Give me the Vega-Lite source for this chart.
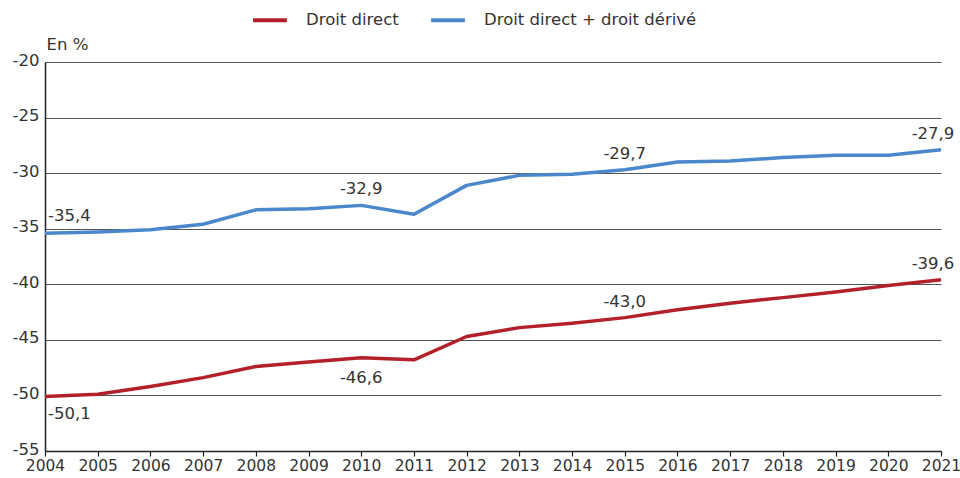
{
  "$schema": "https://vega.github.io/schema/vega-lite/v6.json",
  "width": 896,
  "height": 389,
  "autosize": {"type": "none"},
  "padding": {"left": 45, "top": 62, "right": 19, "bottom": 27},
  "background": "white",
  "config": {
    "locale": {"number": {"decimal": ",", "thousands": " ", "grouping": [3], "currency": ["", " €"], "minus": "-"}},
    "font": "DejaVu Sans",
    "view": {"stroke": null},
    "axis": {"labelFont": "DejaVu Sans", "labelFontSize": 16.5, "labelColor": "#333333", "titleFont": "DejaVu Sans"}
  },
  "data": {
    "values": [
      {"year": 2004, "serie": "Droit direct", "value": -50.1},
      {"year": 2005, "serie": "Droit direct", "value": -49.9},
      {"year": 2006, "serie": "Droit direct", "value": -49.2},
      {"year": 2007, "serie": "Droit direct", "value": -48.4},
      {"year": 2008, "serie": "Droit direct", "value": -47.4},
      {"year": 2009, "serie": "Droit direct", "value": -47.0},
      {"year": 2010, "serie": "Droit direct", "value": -46.6},
      {"year": 2011, "serie": "Droit direct", "value": -46.8},
      {"year": 2012, "serie": "Droit direct", "value": -44.7},
      {"year": 2013, "serie": "Droit direct", "value": -43.9},
      {"year": 2014, "serie": "Droit direct", "value": -43.5},
      {"year": 2015, "serie": "Droit direct", "value": -43.0},
      {"year": 2016, "serie": "Droit direct", "value": -42.3},
      {"year": 2017, "serie": "Droit direct", "value": -41.7},
      {"year": 2018, "serie": "Droit direct", "value": -41.2},
      {"year": 2019, "serie": "Droit direct", "value": -40.7},
      {"year": 2020, "serie": "Droit direct", "value": -40.1},
      {"year": 2021, "serie": "Droit direct", "value": -39.6},
      {"year": 2004, "serie": "Droit direct + droit dérivé", "value": -35.4},
      {"year": 2005, "serie": "Droit direct + droit dérivé", "value": -35.3},
      {"year": 2006, "serie": "Droit direct + droit dérivé", "value": -35.1},
      {"year": 2007, "serie": "Droit direct + droit dérivé", "value": -34.6},
      {"year": 2008, "serie": "Droit direct + droit dérivé", "value": -33.3},
      {"year": 2009, "serie": "Droit direct + droit dérivé", "value": -33.2},
      {"year": 2010, "serie": "Droit direct + droit dérivé", "value": -32.9},
      {"year": 2011, "serie": "Droit direct + droit dérivé", "value": -33.7},
      {"year": 2012, "serie": "Droit direct + droit dérivé", "value": -31.1},
      {"year": 2013, "serie": "Droit direct + droit dérivé", "value": -30.2},
      {"year": 2014, "serie": "Droit direct + droit dérivé", "value": -30.1},
      {"year": 2015, "serie": "Droit direct + droit dérivé", "value": -29.7},
      {"year": 2016, "serie": "Droit direct + droit dérivé", "value": -29.0},
      {"year": 2017, "serie": "Droit direct + droit dérivé", "value": -28.9},
      {"year": 2018, "serie": "Droit direct + droit dérivé", "value": -28.6},
      {"year": 2019, "serie": "Droit direct + droit dérivé", "value": -28.4},
      {"year": 2020, "serie": "Droit direct + droit dérivé", "value": -28.4},
      {"year": 2021, "serie": "Droit direct + droit dérivé", "value": -27.9}
    ]
  },
  "encoding": {
    "x": {
      "field": "year", "type": "quantitative",
      "scale": {"domain": [2004, 2021], "nice": false, "zero": false},
      "axis": {
        "title": null, "values": [2004,2005,2006,2007,2008,2009,2010,2011,2012,2013,2014,2015,2016,2017,2018,2019,2020,2021],
        "format": "d", "grid": false, "domainColor": "#222222", "domainWidth": 1.5,
        "tickColor": "#222222", "tickSize": 5, "tickWidth": 1.2, "labelPadding": 2, "labelFontSize": 15.5,
        "labelOverlap": false, "labelBound": false, "labelFlush": false
      }
    },
    "y": {
      "field": "value", "type": "quantitative",
      "scale": {"domain": [-55, -20], "nice": false, "zero": false},
      "axis": {
        "title": "En %", "titleAngle": 0, "titleAlign": "left", "titleBaseline": "bottom",
        "titleX": 1, "titleY": -10, "titleFontSize": 16.5, "titleFontWeight": "normal", "titleColor": "#333333",
        "values": [-55, -50, -45, -40, -35, -30, -25, -20],
        "format": "d", "grid": true, "gridColor": "#555555", "gridWidth": 1,
        "ticks": false, "labelPadding": 6, "labelBaseline": "middle", "labelOffset": -2,
        "domainColor": "#222222", "domainWidth": 1.5
      }
    }
  },
  "layer": [
    {
      "mark": {"type": "line", "strokeWidth": 3.5, "strokeJoin": "round"},
      "encoding": {
        "color": {
          "field": "serie", "type": "nominal",
          "scale": {"domain": ["Droit direct", "Droit direct + droit dérivé"], "range": ["#b3202a", "#4a88cb"]},
          "legend": {
            "title": null, "orient": "none", "direction": "horizontal", "legendX": 206, "legendY": -61,
            "symbolType": "stroke", "symbolSize": 1150, "symbolStrokeWidth": 4,
            "labelFontSize": 16.5, "labelColor": "#333333", "labelFont": "DejaVu Sans", "labelLimit": 400,
            "labelOffset": 17, "columnPadding": 24
          }
        }
      }
    },
    {
      "transform": [{"filter": "datum.serie == 'Droit direct + droit dérivé' && (datum.year == 2010 || datum.year == 2015)"}],
      "mark": {"type": "text", "fontSize": 16.5, "color": "#333333", "baseline": "bottom", "align": "center", "dy": -8},
      "encoding": {"text": {"field": "value", "type": "quantitative", "format": ".1f"}}
    },
    {
      "transform": [{"filter": "datum.serie == 'Droit direct + droit dérivé' && datum.year == 2004"}],
      "mark": {"type": "text", "fontSize": 16.5, "color": "#333333", "baseline": "bottom", "align": "left", "dx": 3, "dy": -9},
      "encoding": {"text": {"field": "value", "type": "quantitative", "format": ".1f"}}
    },
    {
      "transform": [{"filter": "datum.year == 2021"}],
      "mark": {"type": "text", "fontSize": 16.5, "color": "#333333", "baseline": "bottom", "align": "center", "dx": -8, "dy": -8},
      "encoding": {"text": {"field": "value", "type": "quantitative", "format": ".1f"}}
    },
    {
      "transform": [{"filter": "datum.serie == 'Droit direct' && datum.year == 2015"}],
      "mark": {"type": "text", "fontSize": 16.5, "color": "#333333", "baseline": "bottom", "align": "center", "dy": -8},
      "encoding": {"text": {"field": "value", "type": "quantitative", "format": ".1f"}}
    },
    {
      "transform": [{"filter": "datum.serie == 'Droit direct' && datum.year == 2010"}],
      "mark": {"type": "text", "fontSize": 16.5, "color": "#333333", "baseline": "top", "align": "center", "dy": 12},
      "encoding": {"text": {"field": "value", "type": "quantitative", "format": ".1f"}}
    },
    {
      "transform": [{"filter": "datum.serie == 'Droit direct' && datum.year == 2004"}],
      "mark": {"type": "text", "fontSize": 16.5, "color": "#333333", "baseline": "top", "align": "left", "dx": 3, "dy": 9},
      "encoding": {"text": {"field": "value", "type": "quantitative", "format": ".1f"}}
    }
  ]
}
